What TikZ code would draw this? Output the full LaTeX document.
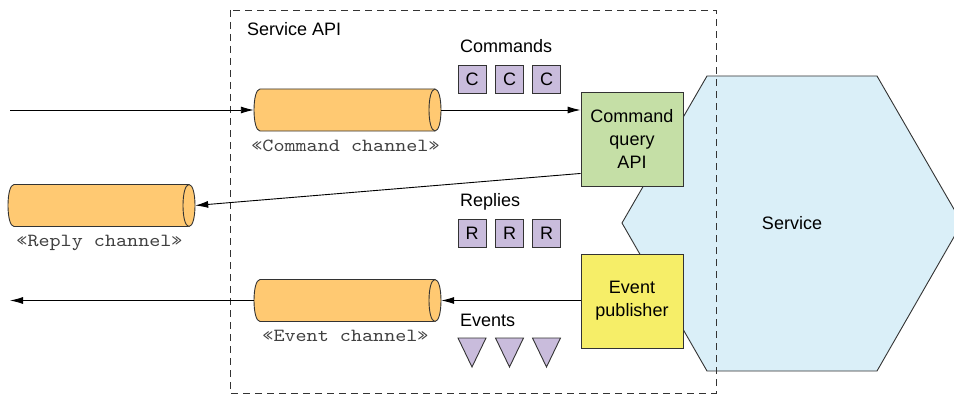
\documentclass[tikz,border=0pt]{standalone}
\usepackage{fontspec}
\setmainfont{Liberation Sans}
\newfontfamily\chanmono[FakeStretch=1.14]{lmmono10-regular.otf}
\usetikzlibrary{arrows.meta,calc}
\definecolor{chanorange}{HTML}{FFC972}
\definecolor{msgpurple}{HTML}{C9BCDC}
\definecolor{apigreen}{HTML}{C5DFA6}
\definecolor{pubyellow}{HTML}{F6EE68}
\definecolor{svcblue}{HTML}{DAEFF8}
\definecolor{edge}{HTML}{333333}
\newcommand\chancyl[4]{%
  \node[chanbox] (#1) at (#2,#3) {};
  \filldraw[chan] ({#2-87.5},{#3-21}) -- ({#2+87.5},{#3-21})
     .. controls ({#2+95.5},{#3-21}) and ({#2+95.5},{#3+21}) .. ({#2+87.5},{#3+21})
     -- ({#2-87.5},{#3+21})
     .. controls ({#2-95.5},{#3+21}) and ({#2-95.5},{#3-21}) .. ({#2-87.5},{#3-21}) -- cycle;
  \draw[chan] ({#2+87.5},{#3-21}) .. controls ({#2+79.5},{#3-21}) and ({#2+79.5},{#3+21}) .. ({#2+87.5},{#3+21});
  \node[monolbl] (#1lbl) at ({#2-2},{#3+41}) {#4};
}
\begin{document}
\begin{tikzpicture}[x=1pt,y=-1pt,
  font=\fontsize{18}{23}\selectfont,
  chanbox/.style={rectangle,minimum width=187pt,minimum height=42pt,inner sep=0pt},
  chan/.style={fill=chanorange,draw=edge,line width=0.9pt},
  monolbl/.style={anchor=base,inner sep=0pt,font=\chanmono\fontsize{18.5}{20}\selectfont,text=black!75},
  lbl/.style={anchor=base west,inner sep=0pt},
  msgbox/.style={rectangle,draw=edge,fill=msgpurple,line width=0.9pt,minimum width=28pt,minimum height=28pt,inner sep=0pt},
  apibox/.style={rectangle,draw=edge,line width=0.9pt,minimum width=102pt,minimum height=94pt,align=center,inner sep=0pt},
  arr/.style={-{Latex[length=13pt,width=7pt]},line width=0.9pt},
  tri/.style={draw=edge,fill=msgpurple,line width=0.9pt,line join=miter}
]
\useasboundingbox (0,0) rectangle (954,396);

% Service hexagon
\begin{scope}
  \clip (0,0) rectangle (954,396);
  \filldraw[fill=svcblue,draw=edge,line width=0.9pt]
    (707,76) -- (877,76) -- (962,223) -- (877,371) -- (707,371) -- (622,223) -- cycle;
\end{scope}
\node (svc) at (792,223) {Service};

% Service API boundary
\draw[dash pattern=on 7pt off 5pt,line width=0.9pt,draw=black!80] (230,10) rectangle (716,393);
\node[lbl] (apilbl) at (247,36) {Service API};

% Channels
\chancyl{cmdch}{347.5}{110}{«Command channel»}
\chancyl{replych}{101.5}{205.5}{«Reply channel»}
\chancyl{evch}{347.5}{300.5}{«Event channel»}

% API boxes
\node[apibox,fill=apigreen] (capi) at (632,139) {Command\\query\\API};
\node[apibox,fill=pubyellow] (epub) at (632,301) {Event\\publisher};

% Messages
\node[lbl] (cmdlbl) at (460,53) {Commands};
\node[msgbox] (c1) at (472,79) {C};
\node[msgbox] (c2) at (509.5,79) {C};
\node[msgbox] (c3) at (546.5,79) {C};

\node[lbl] (replbl) at (460,206.5) {Replies};
\node[msgbox] (r1) at (472,233.5) {R};
\node[msgbox] (r2) at (509.5,233.5) {R};
\node[msgbox] (r3) at (546.5,233.5) {R};

\node[lbl] (evlbl) at (460,326.5) {Events};
\draw[tri] (458,338) -- (486,338) -- (472,367) -- cycle;
\draw[tri] (495.5,338) -- (523.5,338) -- (509.5,367) -- cycle;
\draw[tri] (532.5,338) -- (560.5,338) -- (546.5,367) -- cycle;

% Connectors
\coordinate (inL) at (10,110);
\coordinate (outL) at (10,300.5);
\draw[arr] (inL) -- (cmdch.west);
\draw[arr] (cmdch.east) -- (cmdch.east -| capi.west);
\draw[arr] ($(capi.south west)+(0,-13)$) -- (replych.east);
\draw[arr] (evch.east -| epub.west) -- (evch.east);
\draw[arr] (evch.west) -- (outL);
\end{tikzpicture}
\end{document}
